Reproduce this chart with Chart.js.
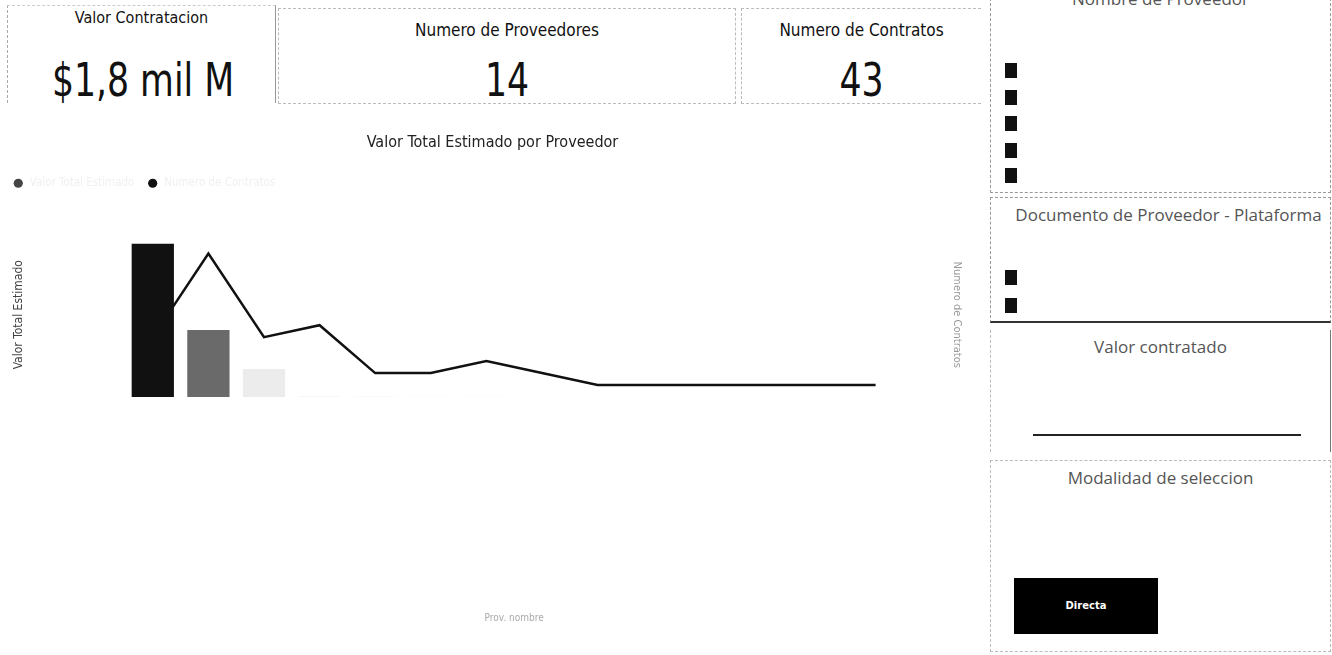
<!DOCTYPE html>
<html lang="es">
<head>
<meta charset="utf-8">
<title>Valor Total Estimado por Proveedor</title>
<script src="https://cdn.jsdelivr.net/npm/chart.js@4.4.1/dist/chart.umd.min.js"></script>
<style>
  body {
    margin: 0;
    width: 1332px;
    height: 655px;
    position: relative;
    overflow: hidden;
    background: #fff;
    color: #111;
    font-family: "Liberation Sans Narrow", "DejaVu Sans Condensed", sans-serif;
  }
  .box { position: absolute; box-sizing: border-box; }
  .card-title {
    position: absolute; left: 0; right: 0;
    text-align: center; font-size: 17px; line-height: 20px; color: #111;
  }
  .card-value {
    position: absolute; left: 0; right: 0;
    text-align: center; font-family: "Liberation Sans Narrow", "DejaVu Sans Condensed", sans-serif;
    font-weight: normal; font-size: 47px; line-height: 48px; color: #111;
    transform: scaleX(0.82);
  }
  .panel-title {
    position: absolute; left: 0; right: 0;
    text-align: center; font-family: "Open Sans", sans-serif;
    font-size: 17px; line-height: 22px; color: #555; white-space: nowrap;
  }
  .chk { position: absolute; left: 14px; width: 12px; height: 15px; background: #111; }
  #chartBox { position: absolute; left: 0; top: 125px; width: 985px; height: 515px; }
</style>
</head>
<body>

<!-- tarjetas -->
<div class="box" style="left:7px;top:5px;width:269px;height:98px;border-left:1px dashed #aaa;border-top:1px dashed #ccc;border-right:1px solid #999;">
  <div class="card-title" style="top:2px;font-size:16px;">Valor Contratacion</div>
  <div class="card-value" id="valCard" style="top:50px;left:3px;"></div>
</div>
<div class="box" style="left:278px;top:8px;width:458px;height:96px;border:1px dashed #bbb;">
  <div class="card-title" style="top:11px;">Numero de Proveedores</div>
  <div class="card-value" id="provCard" style="top:47px;"></div>
</div>
<div class="box" style="left:741px;top:8px;width:240px;height:96px;border:1px dashed #bbb;border-right:none;">
  <div class="card-title" style="top:11px;">Numero de Contratos</div>
  <div class="card-value" id="contCard" style="top:47px;"></div>
</div>

<!-- grafico -->
<div id="chartBox"><canvas id="comboChart" width="985" height="515"></canvas></div>

<!-- segmentadores -->
<div class="box" style="left:990px;top:-2px;width:341px;height:195px;border:1px dashed #999;border-top:none;">
  <div class="panel-title" style="top:-10px;">Nombre de Proveedor</div>
  <div class="chk" style="top:65px;"></div>
  <div class="chk" style="top:92px;"></div>
  <div class="chk" style="top:118px;"></div>
  <div class="chk" style="top:145px;"></div>
  <div class="chk" style="top:170px;"></div>
</div>
<div class="box" style="left:990px;top:197px;width:341px;height:126px;border:1px dashed #999;border-bottom:2px solid #333;">
  <div class="panel-title" style="top:6px;left:10px;right:-6px;">Documento de Proveedor - Plataforma</div>
  <div class="chk" style="top:72px;"></div>
  <div class="chk" style="top:100px;"></div>
</div>
<div class="box" style="left:990px;top:330px;width:341px;height:122px;border-left:1px dashed #bbb;border-right:1px solid #777;">
  <div class="panel-title" style="top:6px;">Valor contratado</div>
  <div style="position:absolute;left:42px;top:104px;width:268px;height:2px;background:#222;"></div>
</div>
<div class="box" style="left:990px;top:460px;width:341px;height:192px;border:1px dashed #bbb;">
  <div class="panel-title" style="top:6px;">Modalidad de seleccion</div>
  <div style="position:absolute;left:23px;top:117px;width:144px;height:56px;background:#000;color:#fff;font:bold 10px 'DejaVu Sans',sans-serif;line-height:56px;text-align:center;">Directa</div>
</div>

<script>
// datos
const proveedores = ['Proveedor 1', 'Proveedor 2', 'Proveedor 3', 'Proveedor 4', 'Proveedor 5', 'Proveedor 6', 'Proveedor 7',
    'Proveedor 8', 'Proveedor 9', 'Proveedor 10', 'Proveedor 11', 'Proveedor 12', 'Proveedor 13', 'Proveedor 14'];
// valor total estimado, en miles de millones
const valorEstimado = [1.1, 0.48, 0.2, 0.006, 0.005, 0.004, 0.003, 0.002, 0.002, 0.001, 0.001, 0.001, 0.001, 0.001];
const numContratos = [5, 12, 5, 6, 2, 2, 3, 2, 1, 1, 1, 1, 1, 1];

const barColors = ['#111111', '#6a6a6a', '#ececec', '#f6f6f6', '#f8f8f8', '#f9f9f9', '#fafafa',
    '#fbfbfb', '#fbfbfb', '#fcfcfc', '#fcfcfc', '#fdfdfd', '#fdfdfd', '#fdfdfd'];

// tarjetas
const totalValor = valorEstimado.reduce((a, b) => a + b, 0);
const totalContratos = numContratos.reduce((a, b) => a + b, 0);
document.getElementById('valCard').textContent = '$' + totalValor.toFixed(1).replace('.', ',') + ' mil M';
document.getElementById('provCard').textContent = proveedores.length;
document.getElementById('contCard').textContent = totalContratos;

Chart.defaults.font.family = '"Liberation Sans Narrow", "DejaVu Sans Condensed", sans-serif';

// espacio extra debajo de la leyenda
const legendGap = {
    id: 'legendGap',
    beforeInit(chart) {
        const fit = chart.legend.fit;
        chart.legend.fit = function () {
            fit.bind(chart.legend)();
            this.height += 33.5;
        };
    }
};

new Chart(document.getElementById('comboChart'), {
    data: {
        labels: proveedores,
        datasets: [
            {
                type: 'line',
                label: 'Numero de Contratos',
                data: numContratos,
                yAxisID: 'y1',
                borderColor: '#111',
                backgroundColor: '#111',
                borderWidth: 2.5,
                pointRadius: 0,
                tension: 0,
                order: 0
            },
            {
                type: 'bar',
                label: 'Valor Total Estimado',
                data: valorEstimado,
                yAxisID: 'y',
                backgroundColor: barColors,
                categoryPercentage: 1,
                barPercentage: 0.76,
                order: 1
            }
        ]
    },
    options: {
        responsive: false,
        animation: false,
        devicePixelRatio: 1,
        plugins: {
            title: {
                display: true,
                text: 'Valor Total Estimado por Proveedor',
                color: '#222',
                font: { size: 16, weight: 'normal' },
                padding: { top: 8.4, bottom: 12.4 }
            },
            legend: {
                position: 'top',
                align: 'start',
                reverse: true,
                labels: {
                    usePointStyle: true,
                    pointStyle: 'circle',
                    boxHeight: 6.5,
                    padding: 12.5,
                    color: '#f0f0f0',
                    font: { size: 11.5 },
                    generateLabels(chart) {
                        const items = Chart.defaults.plugins.legend.labels.generateLabels(chart);
                        items.forEach(it => {
                            it.fillStyle = it.text === 'Valor Total Estimado' ? '#444' : '#111';
                            it.strokeStyle = it.fillStyle;
                            it.lineWidth = 0;
                        });
                        return items;
                    }
                }
            },
            tooltip: { enabled: false }
        },
        scales: {
            x: {
                grid: { display: false },
                border: { display: false },
                ticks: { display: false },
                title: { display: true, text: 'Prov. nombre', color: '#aaa', font: { size: 10 }, padding: { bottom: 16 } },
                afterFit(scale) { scale.height = 243; }
            },
            y: {
                position: 'left',
                min: 0,
                max: 1.18,
                grid: { display: false },
                border: { display: false },
                ticks: { display: false },
                title: { display: true, text: 'Valor Total Estimado', color: '#444', font: { size: 12 }, padding: { top: 12 } },
                afterFit(scale) { scale.width = 125; }
            },
            y1: {
                position: 'right',
                min: 0,
                max: 13.75,
                grid: { display: false },
                border: { display: false },
                ticks: { display: false },
                title: { display: true, text: 'Numero de Contratos', color: '#999', font: { size: 11 }, padding: { top: 22 } },
                afterFit(scale) { scale.width = 81.6; }
            }
        }
    },
    plugins: [legendGap]
});
</script>
</body>
</html>
